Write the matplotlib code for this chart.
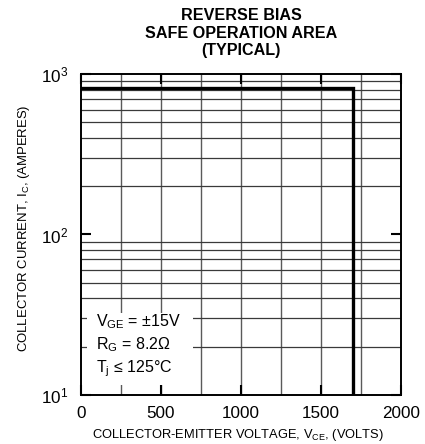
import numpy as np
import matplotlib
matplotlib.use("Agg")
import matplotlib.pyplot as plt
from matplotlib.patches import Rectangle
from matplotlib.ticker import FixedLocator, NullLocator

plt.rcParams['font.family'] = ['Liberation Sans', 'DejaVu Sans']
plt.rcParams['mathtext.fontset'] = 'custom'
plt.rcParams['mathtext.rm'] = 'Liberation Sans'
plt.rcParams['mathtext.it'] = 'Liberation Sans'
plt.rcParams['mathtext.bf'] = 'Liberation Sans:bold'

# RBSOA boundary (typical)
vce = [0, 1700, 1700]
ic = [820, 820, 10]

x_ticks = [0, 500, 1000, 1500, 2000]
x_grid = [250, 500, 750, 1000, 1250, 1500, 1750]
y_grid = [20, 30, 40, 50, 60, 70, 80, 90, 200, 300, 400, 500, 600, 700, 800, 900]
y_ticks = [10, 100, 1000]
y_labels = ['$10^1$', '$10^2$', '$10^3$']

W, H = 425, 444
fig = plt.figure(figsize=(W/100, H/100), dpi=100)
# axes box in pixels: left 81, right 401, top 74, bottom 395
ax = fig.add_axes([81/W, 1 - 395/H, 320/W, 321/H])

ax.set_yscale('log')
ax.set_xlim(0, 2000)
ax.set_ylim(10, 1000)

for x in x_grid:
    ax.axvline(x, color='#5a5a5a', lw=1.0, zorder=1)
for y in y_grid:
    ax.axhline(y, color='#3a3a3a', lw=0.9, zorder=1)

ax.plot(vce, ic, color='black', lw=2.4, solid_joinstyle='miter', zorder=3)

ax.xaxis.set_major_locator(FixedLocator(x_ticks))
ax.set_xticklabels([str(v) for v in x_ticks])
ax.yaxis.set_major_locator(FixedLocator(y_ticks))
ax.set_yticklabels(y_labels)
ax.yaxis.set_minor_locator(NullLocator())
ax.xaxis.set_minor_locator(NullLocator())
ax.tick_params(axis='both', direction='in', length=7, width=1.5, labelsize=12.5,
               top=True, right=True, color='black')
ax.tick_params(axis='x', pad=8)
ax.tick_params(axis='y', pad=9)

for s in ax.spines.values():
    s.set_linewidth(1.4)
    s.set_zorder(5)

# axis titles
xl = fig.text(238/W, 1 - 438/H, 'COLLECTOR-EMITTER VOLTAGE, V$_{\\mathrm{CE}}$, (VOLTS)',
              ha='center', va='baseline', fontsize=7.8)
yl = fig.text(24/W, 1 - 228/H, 'COLLECTOR CURRENT, I$_{\\mathrm{C}}$, (AMPERES)',
              ha='center', va='center', rotation=90, fontsize=7.8)

# chart title
title_lines = ['REVERSE BIAS', 'SAFE OPERATION AREA', '(TYPICAL)']
title_base = [20, 38, 55]
titles = []
for t, yb in zip(title_lines, title_base):
    titles.append(fig.text(241/W, 1 - yb/H, t, ha='center', va='baseline',
                           fontsize=10, fontweight='bold'))

# condition box (white background masks the grid)
def ax_fx(px):
    return (px - 81) / 320

def ax_fy(py):
    return (395 - py) / 321

ax.add_patch(Rectangle((ax_fx(87), ax_fy(385)), ax_fx(193) - ax_fx(87),
                       ax_fy(313) - ax_fy(385), transform=ax.transAxes,
                       facecolor='white', edgecolor='none', zorder=2))
cond_lines = ['V$_{\\mathrm{GE}}$ = ±15V', 'R$_{\\mathrm{G}}$ = 8.2Ω', 'T$_{\\mathrm{j}}$ ≤ 125°C']
cond_base = [326, 349, 372]
conds = []
for t, yb in zip(cond_lines, cond_base):
    conds.append(ax.text(ax_fx(96), ax_fy(yb), t, transform=ax.transAxes, ha='left',
                         va='baseline', fontsize=9.5, zorder=4))

# scale font sizes so the text lengths match the reference
fig.canvas.draw()
r = fig.canvas.get_renderer()

def fit(ref, target, group, vertical=False):
    bb = ref.get_window_extent(r)
    k = target / (bb.height if vertical else bb.width)
    for t in group:
        t.set_fontsize(t.get_fontsize() * k)

fit(titles[1], 191, titles)
fit(xl, 293, [xl])
fit(yl, 250, [yl], vertical=True)
fit(conds[0], 86, conds)
fit(ax.get_xticklabels()[2], 38, ax.get_xticklabels() + ax.get_yticklabels())

fig.savefig('out.png', dpi=100)
